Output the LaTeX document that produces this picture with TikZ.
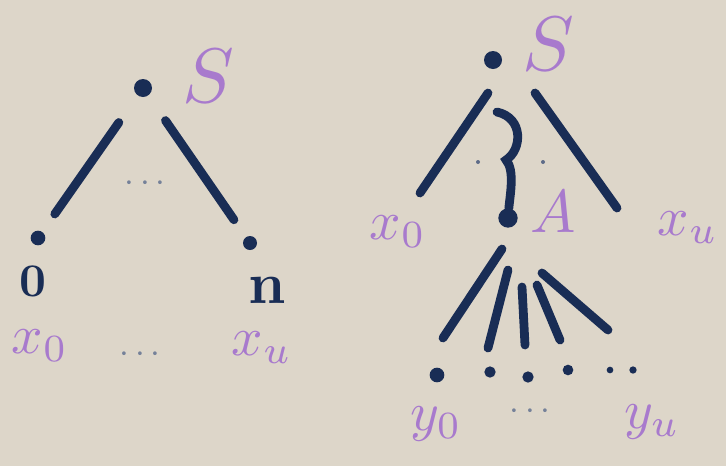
\documentclass[tikz,border=0pt]{standalone}
\usetikzlibrary{calc}
\definecolor{ink}{RGB}{25,45,85}
\definecolor{chalk}{RGB}{168,122,205}
\definecolor{paper}{RGB}{221,214,201}
\tikzset{
  treedot/.style={circle, fill=ink, inner sep=0pt, minimum size=#1},
  treedot/.default=0.54cm,
  smalldot/.style={circle, fill=ink!70, inner sep=0pt, minimum size=0.12cm},
  edgeline/.style={draw=ink, line width=7.5pt, line cap=round},
  sym/.style={text=chalk, inner sep=0pt, scale=4.7},
  bigsym/.style={text=chalk, inner sep=0pt, scale=6.6},
  leaflab/.style={text=ink, inner sep=0pt, scale=#1},
  leaflab/.default=4,
  ellip/.style={text=ink!60, inner sep=0pt, scale=3},
}
\begin{document}
\begin{tikzpicture}[x=0.03cm, y=-0.03cm]
    \fill[paper] (0,0) rectangle (726,466);
    \useasboundingbox (0,0) rectangle (726,466);

    % Left tree: S with leaves 0 ... n
    \node[treedot] (S1) at (143,88) {};
    \node[bigsym] (S1lab) at (208,76) {$S$};
    \node[treedot=0.44cm] (L0) at (38,238) {};
    \node[treedot=0.42cm] (Ln) at (250,243) {};
    \node[leaflab] (L0lab) at (33,281) {\bfseries 0};
    \node[leaflab=5] (Lnlab) at (267,290) {$\mathbf{n}$};
    \node[ellip] (S1dots) at (145,184) {$\cdots$};
    \node[sym] (x0) at (40,346) {$x_0$};
    \node[ellip] (xdots) at (140,355) {$\cdots$};
    \node[sym] (xu) at (262,348) {$x_u$};

    % Left tree: edges
    \draw[edgeline] ($(S1)!.23!(L0)$) -- ($(S1)!.84!(L0)$);
    \draw[edgeline] ($(S1)!.21!(Ln)$) -- ($(S1)!.85!(Ln)$);

    % Right tree: S with A in the middle
    \node[treedot] (S2) at (493,60) {};
    \node[bigsym] (S2lab) at (548,44) {$S$};
    \node[treedot=0.58cm] (A) at (508,218) {};
    \node[sym, scale=1.1] (Alab) at (553,212) {$A$};
    \node[smalldot] (Sdl) at (478,162) {};
    \node[smalldot] (Sdr) at (543,162) {};
    \node[sym] (x0r) at (398,232) {$x_0$};
    \node[sym] (xur) at (688,228) {$x_u$};
    \coordinate (xl) at (420,193);
    \coordinate (xr) at (617,208);

    % Right tree: leaves below A
    \node[treedot=0.44cm] (y0dot) at (437,375) {};
    \node[treedot=0.34cm] (ydot1) at (490,372) {};
    \node[treedot=0.34cm] (ydot2) at (528,377) {};
    \node[treedot=0.32cm] (ydot3) at (568,370) {};
    \node[treedot=0.2cm] (ydot4) at (610,370) {};
    \node[treedot=0.22cm] (yudot) at (633,370) {};
    \node[sym] (y0) at (436,424) {$y_0$};
    \node[ellip] (ydots) at (530,412) {$\cdots$};
    \node[sym] (yu) at (652,422) {$y_u$};

    % Right tree: edges
    \draw[edgeline] ($(S2)+(-5,33)$) -- (xl);
    \draw[edgeline] ($(S2)+(42,33)$) -- (xr);
    \draw[edgeline] ($(S2)+(4,52)$) .. controls (524,118) and (522,150) .. (506,160)
        .. controls (515,170) and (510,195) .. (A);
    \draw[edgeline] ($(A)+(-6,31)$) -- ($(y0dot)+(6,-37)$);
    \draw[edgeline] ($(A)+(0,52)$) -- ($(ydot1)+(-2,-24)$);
    \draw[edgeline] ($(A)+(14,69)$) -- ($(ydot2)+(-3,-32)$);
    \draw[edgeline] ($(A)+(29,67)$) -- ($(ydot3)+(-8,-30)$);
    \draw[edgeline] ($(A)+(34,55)$) -- ($(yudot)+(-25,-40)$);
\end{tikzpicture}
\end{document}
